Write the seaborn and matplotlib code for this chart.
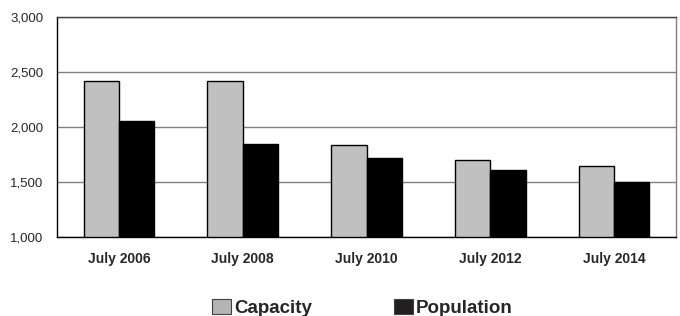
import matplotlib
matplotlib.use("Agg")
import matplotlib.pyplot as plt
import seaborn as sns
import pandas as pd
import numpy as np
from matplotlib.patches import Patch

categories = ["July 2006", "July 2008", "July 2010", "July 2012", "July 2014"]
capacity = [2420, 2420, 1840, 1700, 1645]
population = [2055, 1850, 1720, 1605, 1500]
series = ["Capacity", "Population"]
colors = ["#c0c0c0", "#000000"]

df = pd.DataFrame({
    "cat": categories * 2,
    "value": capacity + population,
    "series": [series[0]] * len(categories) + [series[1]] * len(categories),
})

sns.set_style("white")
plt.rcParams["font.family"] = ["Liberation Sans", "DejaVu Sans"]

fig = plt.figure(figsize=(6.8, 3.16), dpi=100)
ax = fig.add_axes([0.084, 0.25, 0.91, 0.696])

sns.barplot(data=df, x="cat", y="value", hue="series", palette=colors,
            width=0.57, gap=0, edgecolor="black", linewidth=1.0,
            ax=ax, legend=False, saturation=1)

ax.set_ylim(1000, 3000)
ax.set_xlim(-0.5, len(categories) - 0.5)
yt = [1000, 1500, 2000, 2500, 3000]
ax.set_yticks(yt)
ax.set_yticklabels([f"{v:,}" for v in yt], fontsize=9.5)
ax.yaxis.grid(True, color="#808080", linewidth=1.0)
ax.set_axisbelow(True)
ax.set_xlabel("")
ax.set_ylabel("")
for lbl in ax.get_xticklabels():
    lbl.set_fontweight("bold")
    lbl.set_fontsize(10)
ax.tick_params(axis="x", length=0, pad=11)
ax.tick_params(axis="y", length=4, color="#808080", width=0.8, pad=6)
ax.set_xticks(np.arange(-0.5, len(categories), 1.0), minor=True)
ax.tick_params(axis="x", which="minor", length=4, color="#808080", width=0.8, direction="out")

ax.spines["left"].set_color("black")
ax.spines["bottom"].set_color("black")
ax.spines["top"].set_color("#404040")
ax.spines["right"].set_color("#808080")
for s in ax.spines.values():
    s.set_linewidth(1.0)

handles = [Patch(facecolor="#b4b4b4", edgecolor="#404040", linewidth=0.8),
           Patch(facecolor="#231f20", edgecolor="#404040", linewidth=0.8)]
fig.legend(handles, series, loc="center", bbox_to_anchor=(0.533, 0.024), ncol=2,
           frameon=False, prop={"weight": "bold", "size": 13.5},
           handlelength=1.0, handleheight=0.85, handletextpad=0.16, columnspacing=4.4)

fig.savefig("out.png", dpi=100)
